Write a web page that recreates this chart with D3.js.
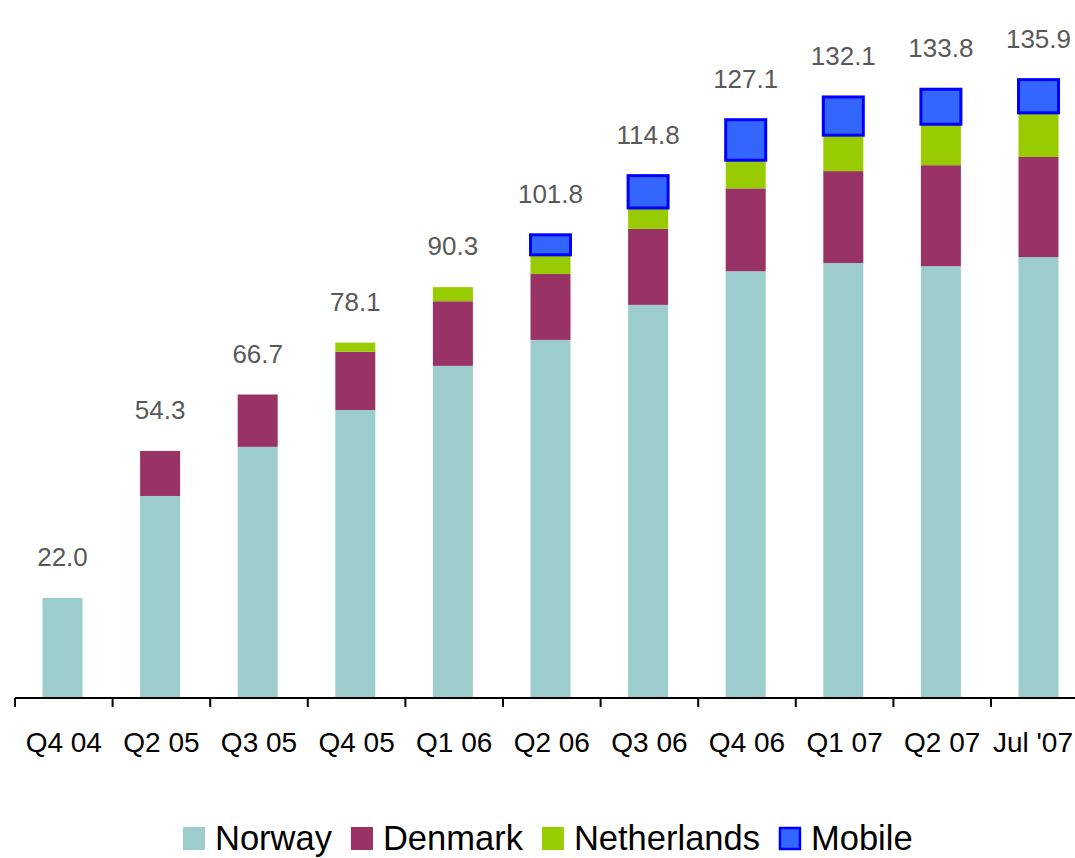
<!DOCTYPE html>
<html>
<head>
<meta charset="utf-8">
<script src="https://d3js.org/d3.v7.min.js"></script>
<style>
  html, body { margin: 0; padding: 0; background: #fff; }
  svg { display: block; font-family: "Liberation Sans", Arial, sans-serif; }
</style>
</head>
<body>
<svg id="chart" width="1075" height="858"></svg>
<script>
const categories = ["Q4 04", "Q2 05", "Q3 05", "Q4 05", "Q1 06", "Q2 06", "Q3 06", "Q4 06", "Q1 07", "Q2 07", "Jul '07"];
const norway      = [22.0, 44.4, 55.2, 63.3, 73.0, 78.7, 86.4, 93.8, 95.6, 94.9, 96.9];
const denmark     = [0, 9.9, 11.5, 12.8, 14.2, 14.5, 16.7, 18.2, 20.2, 22.2, 22.0];
const netherlands = [0, 0, 0, 2.0, 3.1, 4.2, 4.6, 6.2, 7.9, 9.0, 9.7];
const mobile      = [0, 0, 0, 0, 0, 4.4, 7.1, 8.9, 8.4, 7.7, 7.3];
const totals      = [22.0, 54.3, 66.7, 78.1, 90.3, 101.8, 114.8, 127.1, 132.1, 133.8, 135.9];
const totalLabels = ["22.0", "54.3", "66.7", "78.1", "90.3", "101.8", "114.8", "127.1", "132.1", "133.8", "135.9"];
const seriesNames = ["Norway", "Denmark", "Netherlands", "Mobile"];

const colors = { Norway: "#9CCCCC", Denmark: "#993366", Netherlands: "#99CC00", Mobile: "#3366FF" };
const strokes = { Mobile: "#0000FF" };

const W = 1075;
const svg = d3.select("#chart");
const baseY = 698;
const left = 15, step = 97.6;

const x = d3.scaleBand().domain(categories).range([left, left + step * categories.length]).padding(0);
const y = d3.scaleLinear().domain([0, 150]).range([baseY, baseY - 150 * 4.55]);

const rows = categories.map((c, i) => ({ cat: c, Norway: norway[i], Denmark: denmark[i], Netherlands: netherlands[i], Mobile: mobile[i] }));
const stack = d3.stack().keys(seriesNames)(rows);

const barW = 40;
const barOff = 27.5;

stack.forEach(layer => {
  const key = layer.key;
  svg.append("g").selectAll("rect")
    .data(layer.filter(d => d[1] - d[0] > 0))
    .join("rect")
    .attr("x", d => x(d.data.cat) + barOff)
    .attr("width", barW)
    .attr("y", d => y(d[1]))
    .attr("height", d => y(d[0]) - y(d[1]))
    .attr("fill", colors[key])
    .attr("stroke", strokes[key] || "none")
    .attr("stroke-width", strokes[key] ? 3 : 0);
});

// total labels
svg.append("g").selectAll("text")
  .data(categories)
  .join("text")
  .attr("x", (c) => x(c) + barOff + barW / 2)
  .attr("y", (c, i) => y(totals[i]) - 32)
  .attr("text-anchor", "middle")
  .attr("font-size", 26)
  .attr("fill", "#595959")
  .text((c, i) => totalLabels[i]);

// x axis
const axis = d3.axisBottom(x).tickSize(0).tickPadding(0);
const gAxis = svg.append("g").attr("transform", `translate(0,${baseY})`).call(axis);
gAxis.select(".domain").remove();
gAxis.selectAll("text")
  .attr("font-size", 28)
  .attr("font-family", "Liberation Sans, Arial, sans-serif")
  .attr("fill", "#000")
  .attr("dy", null)
  .attr("y", 54);
// keep the last label inside the picture
gAxis.selectAll("text").each(function () {
  const bb = this.getBBox();
  const tx = x(this.__data__) + x.bandwidth() / 2;
  const over = tx + bb.width / 2 - (W - 2);
  if (over > 0) d3.select(this).attr("x", -over);
});

svg.append("line")
  .attr("x1", left).attr("x2", W)
  .attr("y1", baseY).attr("y2", baseY)
  .attr("stroke", "#000").attr("stroke-width", 2);

svg.append("g").selectAll("line")
  .data(categories)
  .join("line")
  .attr("x1", c => x(c)).attr("x2", c => x(c))
  .attr("y1", baseY).attr("y2", baseY + 9)
  .attr("stroke", "#000").attr("stroke-width", 2);

// legend
const legend = svg.append("g");
let lx = 183;
seriesNames.forEach(name => {
  legend.append("rect")
    .attr("x", lx + (strokes[name] ? 1 : 0))
    .attr("y", 827 + (strokes[name] ? 1 : 0))
    .attr("width", strokes[name] ? 20 : 22)
    .attr("height", strokes[name] ? 21 : 23)
    .attr("fill", colors[name])
    .attr("stroke", strokes[name] || "none")
    .attr("stroke-width", strokes[name] ? 2.5 : 0);
  const t = legend.append("text")
    .attr("x", lx + 32)
    .attr("y", 850)
    .attr("font-size", 34.5)
    .attr("fill", "#000")
    .text(name);
  lx = lx + 32 + t.node().getComputedTextLength() + 19;
});
</script>
</body>
</html>
